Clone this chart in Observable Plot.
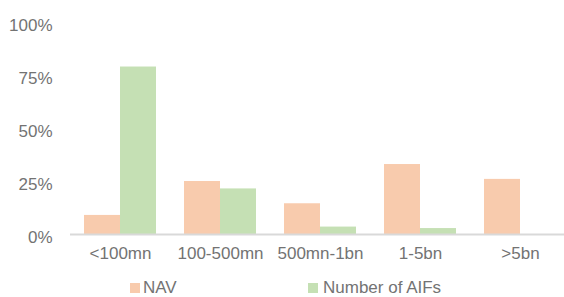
<!DOCTYPE html>
<html>
<head>
<meta charset="utf-8">
<script src="https://cdn.jsdelivr.net/npm/d3@7"></script>
<script src="https://cdn.jsdelivr.net/npm/@observablehq/plot@0.6"></script>
<style>
  html, body { margin: 0; padding: 0; background: #fff; overflow: hidden; }
  #wrap { position: relative; width: 564px; height: 297px; font-family: "Liberation Sans", Arial, sans-serif; color: #737373; }
  .sw { position: absolute; width: 10px; height: 10px; }
  .lt { position: absolute; font-size: 17px; line-height: 19px; }
</style>
</head>
<body>
<div id="wrap"></div>
<script>
const categories = ["<100mn", "100-500mn", "500mn-1bn", "1-5bn", ">5bn"];
const seriesNames = ["NAV", "Number of AIFs"];
const nav = [9, 25, 14.5, 33, 26];
const aifs = [79, 21.5, 3.5, 2.8, 0];
const colors = ["#f8cbad", "#c5e0b4"];
const yTicks = [0, 25, 50, 75, 100];

const data = categories.flatMap((c, i) => [
  {cat: c, series: seriesNames[0], value: nav[i]},
  {cat: c, series: seriesNames[1], value: aifs[i]}
]);

const chart = Plot.plot({
  width: 564,
  height: 272,
  marginLeft: 70,
  marginRight: 0,
  marginTop: 22,
  marginBottom: 38,
  style: {fontFamily: "'Liberation Sans', Arial, sans-serif", fontSize: "17px", color: "#737373", background: "#fff"},
  fx: {domain: categories, padding: 0, range: [70, 570], label: null},
  x: {domain: seriesNames, paddingInner: 0, paddingOuter: 0.36, axis: null},
  y: {domain: [0, 100], label: null},
  color: {domain: seriesNames, range: colors},
  marks: [
    Plot.barY(data, {fx: "cat", x: "series", y: "value", fill: "series"}),
    Plot.ruleY([0], {stroke: "#d9d9d9", strokeWidth: 2}),
    Plot.axisY({ticks: yTicks, tickFormat: d => d + "%", tickSize: 0, tickPadding: 18, dy: 3, label: null}),
    Plot.axisFx({anchor: "bottom", tickSize: 0, tickPadding: 12, label: null})
  ]
});

const wrap = document.getElementById("wrap");
wrap.appendChild(chart);

const legendPos = [{sx: 130, tx: 143}, {sx: 308, tx: 323}];
seriesNames.forEach((name, i) => {
  const sw = document.createElement("div");
  sw.className = "sw";
  sw.style.left = legendPos[i].sx + "px";
  sw.style.top = "283px";
  sw.style.background = colors[i];
  wrap.appendChild(sw);
  const t = document.createElement("div");
  t.className = "lt";
  t.style.left = legendPos[i].tx + "px";
  t.style.top = "278px";
  t.textContent = name;
  wrap.appendChild(t);
});
</script>
</body>
</html>
